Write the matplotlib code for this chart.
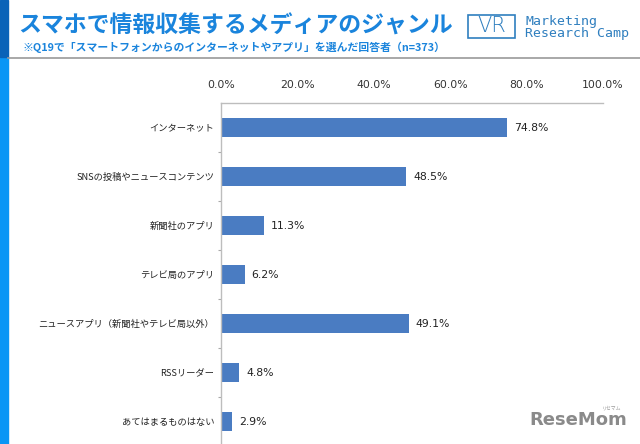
import matplotlib
matplotlib.use("Agg")
import matplotlib.pyplot as plt
from matplotlib.patches import Rectangle
from matplotlib.lines import Line2D

plt.rcParams['font.family'] = ['Noto Sans CJK JP', 'DejaVu Sans']

categories = ["インターネット", "SNSの投稿やニュースコンテンツ", "新聞社のアプリ", "テレビ局のアプリ",
              "ニュースアプリ（新聞社やテレビ局以外）", "RSSリーダー", "あてはまるものはない"]
values = [74.8, 48.5, 11.3, 6.2, 49.1, 4.8, 2.9]
xticks = [0, 20, 40, 60, 80, 100]
xtick_labels = ["0.0%", "20.0%", "40.0%", "60.0%", "80.0%", "100.0%"]

W, H = 640, 444
fig = plt.figure(figsize=(W / 100, H / 100), dpi=100)

# left stripe
fig.patches.append(Rectangle((0, 0), 8 / W, 1 - 57 / H, transform=fig.transFigure,
                             color="#0a96f5", zorder=0))
fig.patches.append(Rectangle((0, 1 - 57 / H), 8 / W, 57 / H, transform=fig.transFigure,
                             color="#0a63b8", zorder=0))
# header line
fig.lines.append(Line2D([8 / W, 1], [1 - 58 / H, 1 - 58 / H], transform=fig.transFigure,
                        color="#9a9a9a", lw=1.2))

blue = "#1a84dc"
fig.text(18 / W, 1 - 26 / H, "スマホで情報収集するメディアのジャンル", fontsize=16.5,
         fontweight="bold", color=blue, va="center", ha="left")
fig.text(22 / W, 1 - 47 / H, "※Q19で「スマートフォンからのインターネットやアプリ」を選んだ回答者（n=373）",
         fontsize=7.8, fontweight="bold", color=blue, va="center", ha="left")

# logo
logo_c = "#2f7fbf"
fig.patches.append(Rectangle((468 / W, 1 - 38 / H), 47 / W, 23 / H, transform=fig.transFigure,
                             fill=False, ec=logo_c, lw=1.2))
fig.text(491.5 / W, 1 - 26.5 / H, "VR", fontsize=15, color=logo_c, ha="center", va="center",
         family="DejaVu Sans", fontweight="light")
fig.text(525 / W, 1 - 22 / H, "Marketing", fontsize=9.5, color=logo_c, family="DejaVu Sans Mono",
         ha="left", va="center")
fig.text(525 / W, 1 - 34 / H, "Research Camp", fontsize=9.5, color=logo_c, family="DejaVu Sans Mono",
         ha="left", va="center")

# axes
ax_left, ax_right = 221 / W, 603 / W
ax_top, ax_bottom = 1 - 103 / H, 1 - 446 / H
ax = fig.add_axes([ax_left, ax_bottom, ax_right - ax_left, ax_top - ax_bottom])
ypos = list(range(len(categories)))
ax.barh(ypos, values, height=0.39, color="#4a7cc2", zorder=2)
ax.set_xlim(0, 100)
ax.set_ylim(len(categories) - 0.5, -0.5)
ax.set_yticks(ypos)
ax.set_yticklabels(categories, fontsize=6.7, color="#222222")
ax.set_yticks([i + 0.5 for i in range(len(categories) - 1)], minor=True)
ax.tick_params(axis="y", which="major", length=0, pad=5)
ax.tick_params(axis="y", which="minor", length=2.5, color="#aaaaaa", width=0.8)
ax.xaxis.tick_top()
ax.set_xticks(xticks)
ax.set_xticklabels(xtick_labels, fontsize=7.8, color="#333333", family="DejaVu Sans")
ax.tick_params(axis="x", length=0, pad=9)
for s in ["right", "bottom"]:
    ax.spines[s].set_visible(False)
ax.spines["top"].set_color("#bdbdbd")
ax.spines["left"].set_color("#bdbdbd")
ax.spines["top"].set_linewidth(1.0)
ax.spines["left"].set_linewidth(1.0)
for y, v in zip(ypos, values):
    ax.annotate(f"{v:.1f}%", (v, y), xytext=(5, 0), textcoords="offset points",
                va="center", ha="left", fontsize=7.8, color="#222222", family="DejaVu Sans")

# watermark
fig.text(529 / W, 1 - 420 / H, "ReseMom", fontsize=13, fontweight="bold", color="#8a8a8a",
         family="DejaVu Sans", ha="left", va="center")
fig.text(612 / W, 1 - 408 / H, "リセマム", fontsize=3.5, color="#9a9a9a", ha="center", va="center")

fig.savefig("out.png", dpi=100)
